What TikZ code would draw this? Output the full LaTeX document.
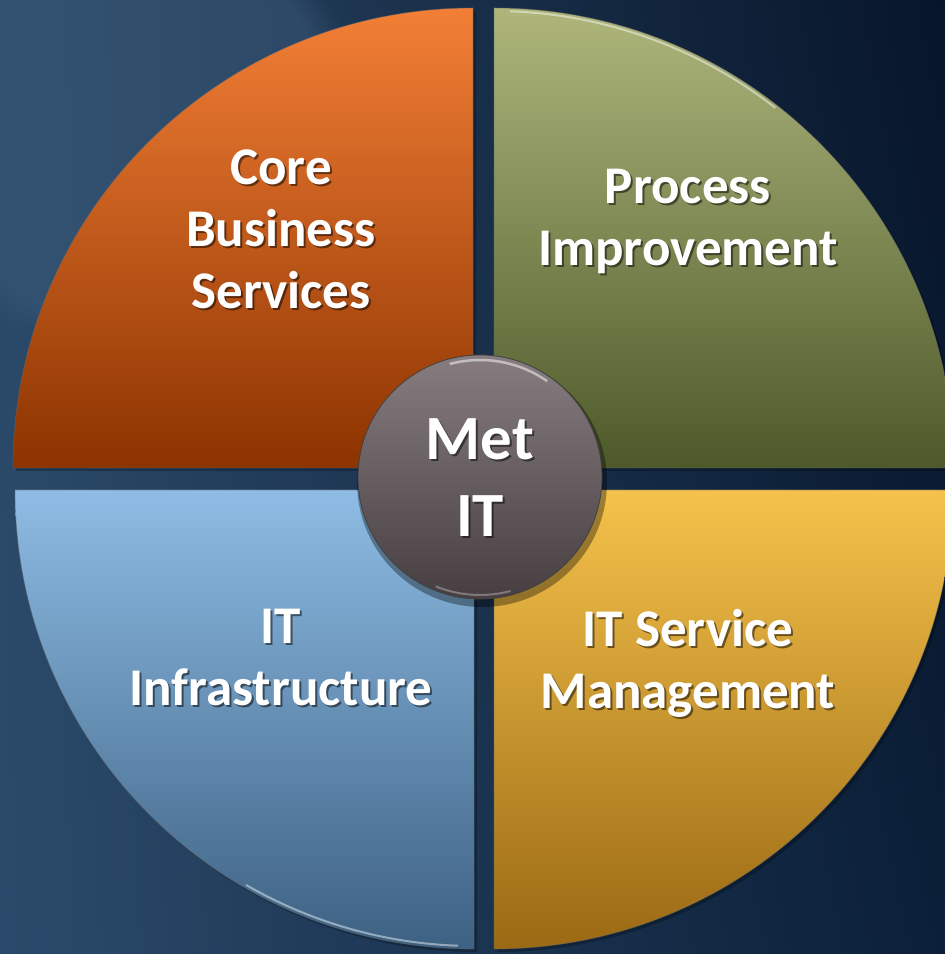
\documentclass[tikz,border=0pt]{standalone}
\usepackage{fontspec}
\setmainfont{Carlito}
\usetikzlibrary{fadings,shadings}
\definecolor{bgUL}{HTML}{2A4867}
\definecolor{bgUR}{HTML}{07152A}
\definecolor{bgLL}{HTML}{2B4A6B}
\definecolor{bgLR}{HTML}{0B1F38}
\definecolor{bgHi}{HTML}{3F5E7E}
\definecolor{tlTop}{HTML}{F37F36}
\definecolor{tlBot}{HTML}{8C3300}
\definecolor{trTop}{HTML}{AEB67B}
\definecolor{trBot}{HTML}{4D592A}
\definecolor{blTop}{HTML}{8EBCE4}
\definecolor{blBot}{HTML}{3D6183}
\definecolor{brTop}{HTML}{F5C24B}
\definecolor{brBot}{HTML}{9A6913}
\definecolor{cTop}{HTML}{877D81}
\definecolor{cBot}{HTML}{463E40}
\tikzset{
  quad/.style={draw=black!60, draw opacity=0.5, line width=0.8pt},
  lbl/.style={text=white, font=\fontsize{53}{62}\selectfont\bfseries, align=center, inner sep=0pt},
  lblsh/.style={lbl, text=black, text opacity=0.5},
  clbl/.style={text=white, font=\fontsize{63}{77}\selectfont\bfseries, align=center, inner sep=0pt},
  clblsh/.style={clbl, text=black, text opacity=0.5},
  hilite/.style={white, line width=2pt, opacity=0.45}
}
\begin{document}
\begin{tikzpicture}[x=1pt,y=1pt]
\useasboundingbox (0,0) rectangle (945,954);
% background
\shade[upper left=bgUL, upper right=bgUR, lower left=bgLL, lower right=bgLR] (0,0) rectangle (945,954);
\fill[bgHi, opacity=0.45, path fading=circle with fuzzy edge 15 percent] (140,820) circle (230);
% corners of quadrants
\coordinate (tlc) at (473,486);
\coordinate (trc) at (494,486);
\coordinate (blc) at (474,464);
\coordinate (brc) at (494,464);
% quadrant shadows
\fill[black, opacity=0.25] ([shift={(3,-3)}]tlc) -- ++(-460,0) arc[start angle=180,end angle=90,radius=460] -- cycle;
\fill[black, opacity=0.25] ([shift={(3,-3)}]trc) -- ++(0,460) arc[start angle=90,end angle=0,radius=460] -- cycle;
\fill[black, opacity=0.25] ([shift={(3,-3)}]blc) -- ++(-459,0) arc[start angle=180,end angle=270,radius=459] -- cycle;
\fill[black, opacity=0.25] ([shift={(3,-3)}]brc) -- ++(0,-459) arc[start angle=270,end angle=360,radius=459] -- cycle;
% quadrants
\shade[quad, top color=tlTop, bottom color=tlBot] (tlc) -- ++(-460,0) arc[start angle=180,end angle=90,radius=460] -- cycle;
\shade[quad, top color=trTop, bottom color=trBot] (trc) -- ++(0,460) arc[start angle=90,end angle=0,radius=460] -- cycle;
\shade[quad, top color=blTop, bottom color=blBot] (blc) -- ++(-459,0) arc[start angle=180,end angle=270,radius=459] -- cycle;
\shade[quad, top color=brTop, bottom color=brBot] (brc) -- ++(0,-459) arc[start angle=270,end angle=360,radius=459] -- cycle;
% edge highlights
\draw[hilite] ([shift={(88:457)}]trc) arc[start angle=88,end angle=52,radius=457];
\draw[hilite] ([shift={(240:456)}]blc) arc[start angle=240,end angle=268,radius=456];
% quadrant labels (with drop shadow)
\node[lblsh] at (283,723) {Core\\Business\\Services};
\node[lbl] (core) at (281,725) {Core\\Business\\Services};
\node[lblsh] at (690,731) {Process\\Improvement};
\node[lbl] (proc) at (688,733) {Process\\Improvement};
\node[lblsh] at (283,294) {IT\\Infrastructure};
\node[lbl] (infra) at (281,296) {IT\\Infrastructure};
\node[lblsh] at (690,289) {IT Service\\Management};
\node[lbl] (itsm) at (688,291) {IT Service\\Management};
% centre circle
\fill[black, opacity=0.35] (482,472) circle (125);
\shade[top color=cTop, bottom color=cBot, draw=black!75, line width=0.8pt] (480,477) circle (122);
\draw[white, opacity=0.5, line width=2.5pt] ([shift={(105:117)}]480,477) arc[start angle=105,end angle=55,radius=117];
\draw[white, opacity=0.3, line width=2pt] ([shift={(248:118)}]480,477) arc[start angle=248,end angle=285,radius=118];
\node[clblsh] at (482,474) {Met\\IT};
\node[clbl] (met) at (480,476) {Met\\IT};
\end{tikzpicture}
\end{document}
